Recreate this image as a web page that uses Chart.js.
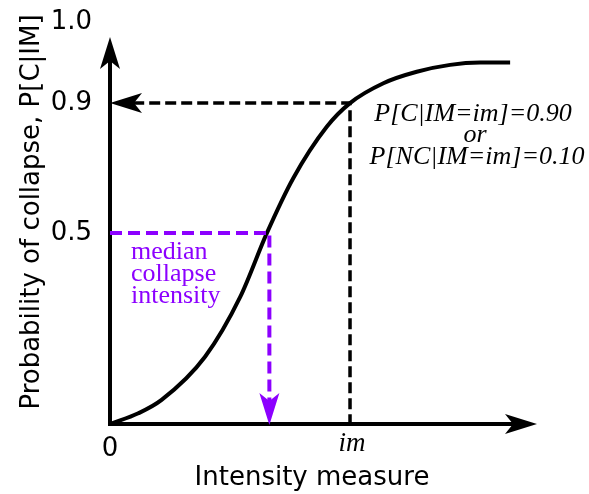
<!DOCTYPE html>
<html>
<head>
<meta charset="utf-8">
<script src="https://cdn.jsdelivr.net/npm/chart.js@4/dist/chart.umd.min.js"></script>
<style>
  html, body { margin: 0; padding: 0; background: #fff; }
  #wrap { width: 589px; height: 494px; }
</style>
</head>
<body>
<div id="wrap"><canvas id="chart" width="589" height="494"></canvas></div>
<script>
// fragility curve (x in units of im, y in axis units)
const curveX = [0, 0.118, 0.215, 0.396, 0.542, 0.653, 0.764, 0.903, 1.0, 1.139, 1.278, 1.417, 1.542, 1.667];
const curveY = [0, 0.028, 0.063, 0.176, 0.332, 0.499, 0.644, 0.778, 0.840, 0.892, 0.922, 0.940, 0.946, 0.946];

// y tick labels and where they sit on the (schematic) axis
const yTickLabels = ['0.5', '0.9', '1.0'];
const yTickPos = [0.5, 0.84, 1.052];

const imValue = 1.0;        // the "im" mark
const medianValue = 0.664;  // median collapse intensity
const medianProb = 0.5;
const imProb = 0.84;        // where "0.9" sits

const xMax = 1.779;
const yMax = 1.013;

const purple = '#8c00ff';
const sans = '"DejaVu Sans", sans-serif';
const serif = '"Liberation Serif", "DejaVu Serif", serif';

function pts(xs, ys) {
  return xs.map((x, i) => ({x: x, y: ys[i]}));
}

/** draws a notched arrow head with its tip at (tx, ty) */
function arrowHead(ctx, tx, ty, angle, color) {
  const len = 32, half = 10, notch = 24;
  ctx.save();
  ctx.translate(tx, ty);
  ctx.rotate(angle);
  ctx.fillStyle = color;
  ctx.beginPath();
  ctx.moveTo(0, 0);
  ctx.lineTo(-len, -half);
  ctx.lineTo(-notch, 0);
  ctx.lineTo(-len, half);
  ctx.closePath();
  ctx.fill();
  ctx.restore();
}

const decorations = {
  id: 'decorations',
  afterDatasetsDraw(chart) {
    const ctx = chart.ctx;
    const xs = chart.scales.x;
    const ys = chart.scales.y;
    const x0 = xs.getPixelForValue(0);
    const y0 = ys.getPixelForValue(0);

    // arrow heads
    arrowHead(ctx, x0, ys.getPixelForValue(yMax), -Math.PI / 2, '#000');
    arrowHead(ctx, xs.getPixelForValue(xMax), y0, 0, '#000');
    arrowHead(ctx, x0, ys.getPixelForValue(imProb), Math.PI, '#000');
    arrowHead(ctx, xs.getPixelForValue(medianValue), y0 + 1, Math.PI / 2, purple);

    ctx.save();
    ctx.fillStyle = '#000';
    ctx.font = '26px ' + sans;
    ctx.textAlign = 'right';
    ctx.textBaseline = 'middle';
    yTickLabels.forEach((lab, i) => {
      ctx.fillText(lab, x0 - 18, ys.getPixelForValue(yTickPos[i]));
    });
    ctx.textAlign = 'center';
    ctx.fillText('0', x0, y0 + 25);
    ctx.fillText('Intensity measure', 312, y0 + 54);

    // y axis title
    ctx.save();
    ctx.translate(32, 212);
    ctx.rotate(-Math.PI / 2);
    ctx.fillText('Probability of collapse, P[C|IM]', 0, 0);
    ctx.restore();

    // im tick label
    ctx.textBaseline = 'alphabetic';
    ctx.font = 'italic 27px ' + serif;
    ctx.fillText('im', xs.getPixelForValue(imValue) + 2, y0 + 27);

    // annotation on the right
    ctx.font = 'italic 26px ' + serif;
    ctx.fillText('P[C|IM=im]=0.90', 473, 121);
    ctx.fillText('or', 475, 142);
    ctx.fillText('P[NC|IM=im]=0.10', 477, 164);

    // purple note
    ctx.fillStyle = purple;
    ctx.font = '26px ' + serif;
    ctx.textAlign = 'left';
    ctx.fillText('median', 131, 259);
    ctx.fillText('collapse', 131, 281);
    ctx.fillText('intensity', 131, 303);
    ctx.restore();
  },
};

new Chart(document.getElementById('chart'), {
  type: 'line',
  data: {
    datasets: [
      {
        label: 'im dashes',
        data: [{x: 0.03, y: imProb}, {x: imValue, y: imProb}, {x: imValue, y: 0}],
        borderColor: '#000',
        borderWidth: 3.5,
        borderDash: [11, 5],
        pointRadius: 0,
        tension: 0,
        clip: false,
      },
      {
        label: 'median dashes',
        data: [{x: 0, y: medianProb}, {x: medianValue, y: medianProb}, {x: medianValue, y: 0.05}],
        borderColor: purple,
        borderWidth: 4,
        borderDash: [12, 6],
        pointRadius: 0,
        tension: 0,
        clip: false,
      },
      {
        label: 'axes',
        data: [{x: 0, y: yMax - 0.02}, {x: 0, y: 0}, {x: xMax - 0.03, y: 0}],
        borderColor: '#000',
        borderWidth: 4,
        pointRadius: 0,
        tension: 0,
        clip: false,
      },
      {
        label: 'fragility',
        data: pts(curveX, curveY),
        borderColor: '#000',
        borderWidth: 4,
        pointRadius: 0,
        cubicInterpolationMode: 'monotone',
        clip: false,
      },
    ],
  },
  options: {
    responsive: false,
    animation: false,
    layout: {padding: {left: 110, right: 52, top: 37, bottom: 70}},
    scales: {
      x: {type: 'linear', min: 0, max: xMax, display: false},
      y: {type: 'linear', min: 0, max: yMax, display: false},
    },
    plugins: {
      legend: {display: false},
      tooltip: {enabled: false},
    },
  },
  plugins: [decorations],
});
</script>
</body>
</html>
